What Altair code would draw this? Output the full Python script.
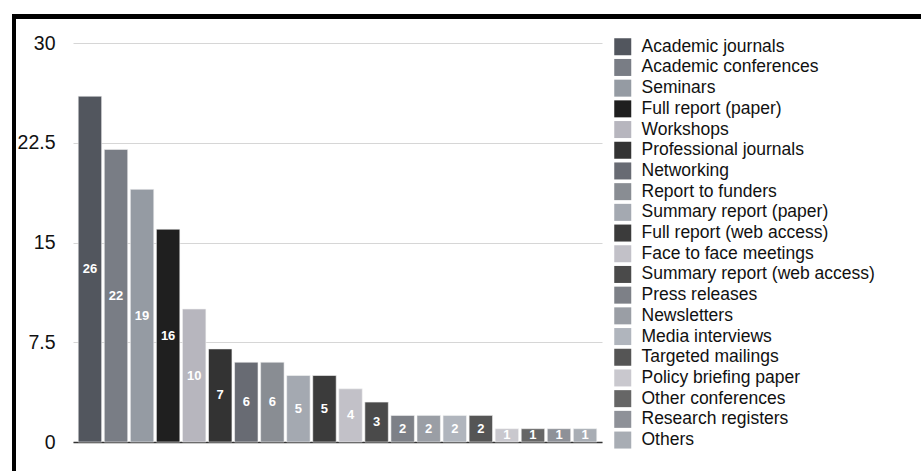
import altair as alt
import pandas as pd

categories = [
    "Academic journals", "Academic conferences", "Seminars", "Full report (paper)",
    "Workshops", "Professional journals", "Networking", "Report to funders",
    "Summary report (paper)", "Full report (web access)", "Face to face meetings",
    "Summary report (web access)", "Press releases", "Newsletters", "Media interviews",
    "Targeted mailings", "Policy briefing paper", "Other conferences",
    "Research registers", "Others",
]
values = [26, 22, 19, 16, 10, 7, 6, 6, 5, 5, 4, 3, 2, 2, 2, 2, 1, 1, 1, 1]
colors = [
    "#52565e", "#797d85", "#959ba3", "#1f1f1f", "#b7b6be", "#333333", "#686b73",
    "#898d93", "#a4a9b1", "#3b3b3b", "#c2c1c8", "#4a4a4a", "#7d8087", "#9a9ea5",
    "#b0b5bd", "#555555", "#c9c8ce", "#666666", "#8e9198", "#a8adb4",
]
y_ticks = [0, 7.5, 15, 22.5, 30]

df = pd.DataFrame({"cat": categories, "v": values})

W, H = 529, 399
PAD = {"left": 73, "top": 43, "right": 921 - 73 - W, "bottom": 471 - 43 - H}

x_axis = alt.Axis(title=None, labels=False, ticks=False, domain=True,
                  domainColor="#333333", domainWidth=1.5, grid=False)
y_axis = alt.Axis(title=None, values=y_ticks, format=".1~f", ticks=False,
                  domain=False, grid=True, gridColor="#d6d6d6",
                  labelFontSize=19.5, labelColor="#111111",
                  labelPadding=18, labelFont="Liberation Sans")
x_scale = alt.Scale(paddingInner=0.1, paddingOuter=0.2)
y_scale = alt.Scale(domain=[0, 30], nice=False)

bars = alt.Chart(df).mark_bar(stroke="#f4f4f4", strokeWidth=0.6).encode(
    x=alt.X("cat:N", sort=categories, scale=x_scale, axis=x_axis),
    y=alt.Y("v:Q", scale=y_scale, axis=y_axis),
    color=alt.Color("cat:N", scale=alt.Scale(domain=categories, range=colors),
                    legend=alt.Legend(title=None, orient="none", legendX=541,
                                      legendY=-5, symbolType="square",
                                      symbolSize=289, symbolStrokeWidth=0,
                                      labelFontSize=17.5, labelFont="Liberation Sans",
                                      labelColor="#111111", labelOffset=10,
                                      rowPadding=1.7, labelLimit=320,
                                      symbolLimit=30, padding=0)),
)

labels = alt.Chart(df).transform_calculate(mid="datum.v / 2").mark_text(
    color="white", fontWeight="bold", fontSize=13, font="Liberation Sans",
    baseline="middle", align="center"
).encode(
    x=alt.X("cat:N", sort=categories, scale=x_scale, axis=x_axis),
    y=alt.Y("mid:Q", scale=y_scale, axis=y_axis),
    text=alt.Text("v:Q"),
)

frame_top = alt.Chart(df).mark_rule(color="black", strokeWidth=5).encode(
    x=alt.value(-61), x2=alt.value(921 - 73), y=alt.value(-26.5)
)
frame_left = alt.Chart(df).mark_rule(color="black", strokeWidth=4).encode(
    x=alt.value(-59), y=alt.value(-29), y2=alt.value(471 - 43)
)

chart = alt.layer(bars, labels, frame_top, frame_left).properties(
    width=W, height=H,
    autosize=alt.AutoSizeParams(type="none"),
    padding=PAD,
    background="white",
).configure_view(strokeWidth=0, stroke="transparent")

chart.save("out.html", embed_options={"renderer": "svg", "actions": False})
